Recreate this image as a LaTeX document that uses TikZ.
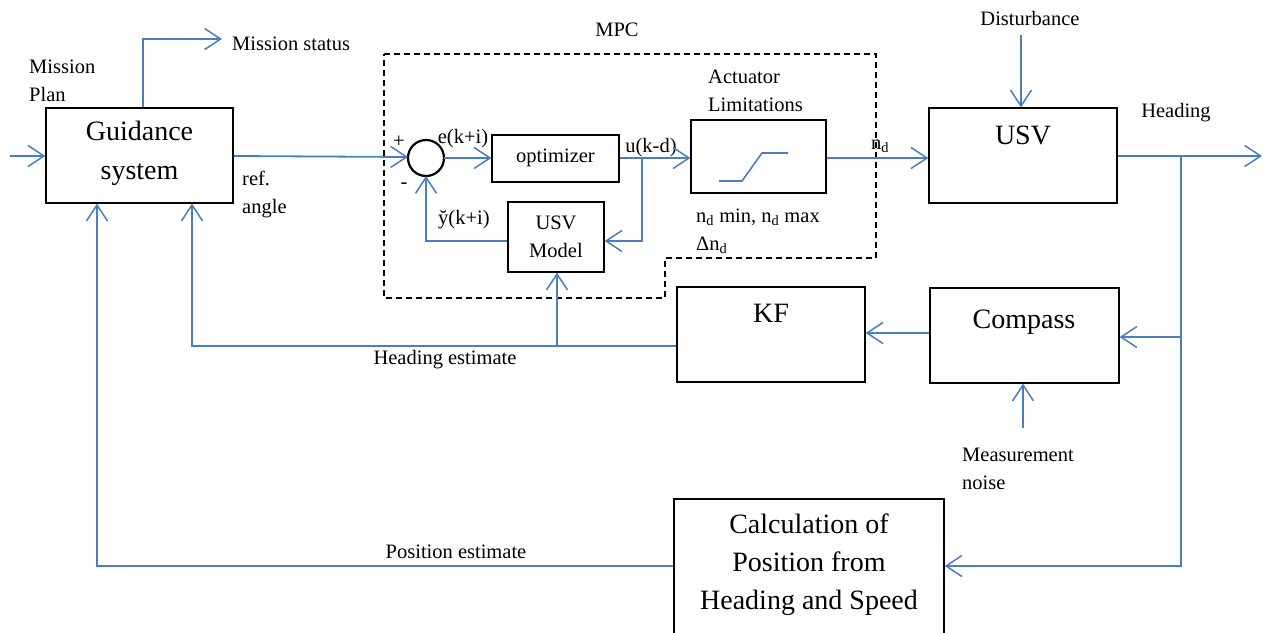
\documentclass[tikz,border=0pt]{standalone}
\usepackage{fontspec}
\setmainfont{Liberation Serif}
\usetikzlibrary{arrows.meta,fit,calc}
\definecolor{lblue}{HTML}{4A7EC0}
\tikzset{
  box/.style={draw=black, line width=1.2pt, inner sep=0pt},
  wire/.style={draw=lblue, line width=1.8pt},
  arr/.style={wire, -{Straight Barb[length=16pt,width=21pt,line width=1.5pt]}},
  sm/.style={font=\fontsize{20.5}{28}\selectfont, inner sep=0pt},
  md/.style={font=\fontsize{28}{38}\selectfont, inner sep=0pt, align=center},
  bg/.style={font=\fontsize{28}{39}\selectfont, inner sep=0pt, align=center},
}
\begin{document}
\begin{tikzpicture}[x=1pt,y=-1pt]
\useasboundingbox (0,0) rectangle (1269,632);
% boxes
\node[box, fit={(46,108) (233,203)}] (guid) {};
\node[box, fit={(492,135) (619,182)}] (opt) {};
\node[box, fit={(691,120) (826,193)}] (act) {};
\node[box, fit={(508,202) (604,272)}] (model) {};
\node[box, fit={(929,108) (1117,203)}] (usv) {};
\node[box, fit={(677,287) (865,382)}] (kf) {};
\node[box, fit={(930,288) (1119,383)}] (comp) {};
\node[box, fit={(674,499) (944,660)}] (calc) {};
\draw[line width=2.2pt] (426,158) circle (18pt);
\coordinate (sum) at (426,158);
% MPC dashed boundary
\draw[line width=1.5pt, dash pattern=on 6pt off 4pt] (384,54) -- (876,54) -- (876,258) -- (665,258) -- (665,298) -- (384,298) -- cycle;
% saturation curve
\draw[wire, line width=1.6pt] (719,181) -- (742,181) -- (762,153) -- (788,153);
% texts
\node[bg] (tguid) at (139.5,153) {Guidance\\system};
\node[bg] (tusv) at (1023,135) {USV};
\node[md] (tkf) at (771,313) {KF};
\node[md] (tcomp) at (1024,322) {Compass};
\node[md] (tcalc) at (809,565) {Calculation of\\Position from\\Heading and Speed};
\node[sm] (topt) at (555.5,158) {optimizer};
\node[sm, align=center] (tmodel) at (556,237) {USV\\Model};
\node[sm, anchor=west] (tms) at (232,44) {Mission status};
\node[sm, anchor=west, align=left] (tmp) at (29,81) {Mission\\Plan};
\node[sm, anchor=west, align=left] (tref) at (242,194) {ref.\\angle};
\node[sm] (tmpc) at (617,30) {MPC};
\node[sm] (tplus) at (399,142) {+};
\node[sm] (tminus) at (404,186) {-};
\node[sm] (te) at (463,139) {e(k+i)};
\node[sm] (tu) at (651,148) {u(k-d)};
\node[sm, anchor=west, align=left] (tact) at (708,91) {Actuator\\Limitations};
\node[sm, anchor=west, align=left] (tlim) at (696,231) {n\textsubscript{d} min, n\textsubscript{d} max\\Δn\textsubscript{d}};
\node[sm, anchor=west] (ty) at (438,220) {\u{y}(k+i)};
\node[sm] (tnd) at (880,146) {n\textsubscript{d}};
\node[sm] (tdist) at (1030,18) {Disturbance};
\node[sm] (thead) at (1176,113) {Heading};
\node[sm, anchor=west, align=left] (tnoise) at (962,469) {Measurement\\noise};
\node[sm] (theadest) at (445,360) {Heading estimate};
\node[sm] (tposest) at (456,552) {Position estimate};
% coordinates
\coordinate (in) at (10,156);
\coordinate (msend) at (222,39);
\coordinate (br1) at (642,158);
\coordinate (dist) at (1021,35);
\coordinate (out) at (1262,156);
\coordinate (br2) at (1181,156);
\coordinate (noise) at (1023,428);
% connectors
\draw[arr] (in) -- (guid.west |- in);
\draw[arr] (guid.north -| 143,0) |- (msend);
\draw[arr] (guid.east |- 0,156) -- ($(sum)+(-18,-1)$);
\draw[arr] ($(sum)+(18,0)$) -- (opt.west |- sum);
\draw[arr] (opt.east |- br1) -- (act.west |- br1);
\draw[arr] (br1) |- (model.east |- 0,241);
\draw[arr] (model.west |- 0,241) -| ($(sum)+(0,18)$);
\draw[arr] (act.east |- br1) -- (usv.west |- br1);
\draw[arr] (dist) -- (usv.north -| dist);
\draw[arr] (usv.east |- out) -- (out);
\draw[arr] (br2) |- (calc.east |- 0,566);
\draw[arr] (br2 |- 0,337) -- (comp.east |- 0,337);
\draw[arr] (comp.west |- 0,333) -- (kf.east |- 0,333);
\draw[arr] (kf.west |- 0,346) -| (guid.south -| 192,0);
\draw[arr] (557,346) -- (model.south -| 557,0);
\draw[arr] (noise) -- (comp.south -| noise);
\draw[arr] (calc.west |- 0,566) -| (guid.south -| 97,0);
\end{tikzpicture}
\end{document}
